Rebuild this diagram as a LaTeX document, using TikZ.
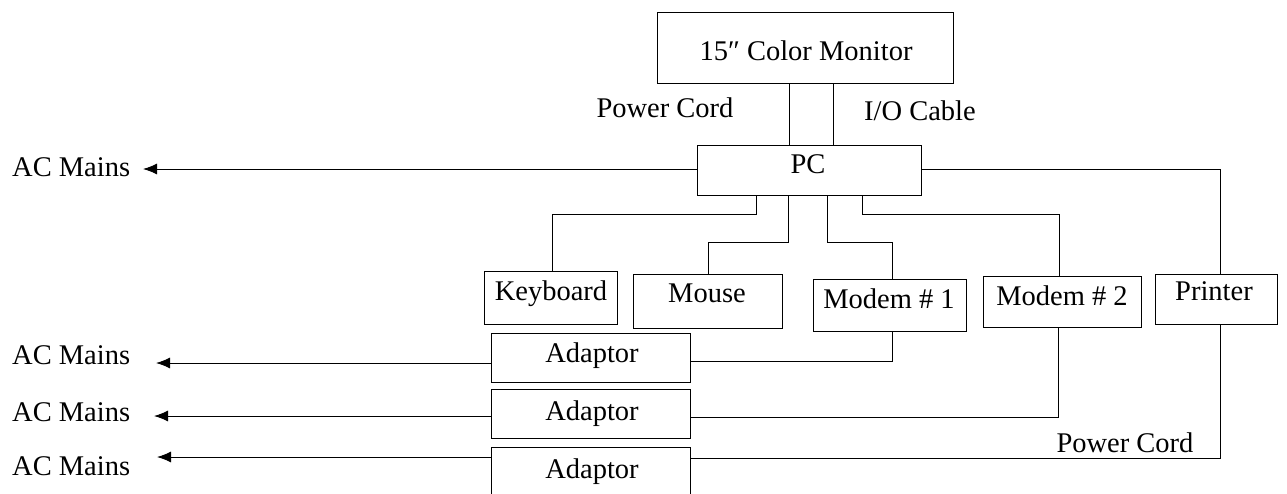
\documentclass[tikz,border=0pt]{standalone}
\usepackage{fontspec}
\setmainfont{Liberation Serif}
\usetikzlibrary{fit,arrows.meta}
\begin{document}
\begin{tikzpicture}[x=1pt,y=-1pt,
  box/.style={draw, line width=1pt, inner sep=0pt},
  lbl/.style={font=\fontsize{28.5}{32}\selectfont, inner sep=0pt, anchor=base},
  wire/.style={line width=1pt},
  arr/.style={wire, -{Latex[length=14pt,width=11pt]}}]
\useasboundingbox (0,0) rectangle (1287,493);
\clip (0,0) rectangle (1287,493);
% boxes
\node[box, fit={(657,12) (953,83)}] (mon) {};
\node[box, fit={(697,145) (921,195)}] (pc) {};
\node[box, fit={(484,271) (617,324)}] (kbd) {};
\node[box, fit={(633,274) (782,328)}] (mouse) {};
\node[box, fit={(813,279) (966,331)}] (modA) {};
\node[box, fit={(983,276) (1141,327)}] (modB) {};
\node[box, fit={(1155,274) (1277,324)}] (prn) {};
\node[box, fit={(491,333) (690,382)}] (adA) {};
\node[box, fit={(491,389) (690,438)}] (adB) {};
\node[box, fit={(491,447) (690,510)}] (adC) {};
% labels
\node[lbl] (monT) at (806,60) {15″ Color Monitor};
\node[lbl] (pcT) at (808,173) {PC};
\node[lbl] (pwrT) at (665,117) {Power Cord};
\node[lbl] (ioT) at (920,120) {I/O Cable};
\node[lbl] (kbdT) at (551,300) {Keyboard};
\node[lbl] (mouseT) at (707,302) {Mouse};
\node[lbl] (modAT) at (889,308) {Modem \# 1};
\node[lbl] (modBT) at (1062,305) {Modem \# 2};
\node[lbl] (prnT) at (1214,300) {Printer};
\node[lbl] (adAT) at (592,362) {Adaptor};
\node[lbl] (adBT) at (592,420) {Adaptor};
\node[lbl] (adCT) at (592,478) {Adaptor};
\node[lbl] (pwrB) at (1125,452) {Power Cord};
\node[lbl, anchor=base west] (ac0) at (12,176) {AC Mains};
\node[lbl, anchor=base west] (ac1) at (12,364) {AC Mains};
\node[lbl, anchor=base west] (ac2) at (12,421) {AC Mains};
\node[lbl, anchor=base west] (ac3) at (12,475) {AC Mains};
% helper coordinates
\coordinate (x789) at (789,0);
\coordinate (x833) at (833,0);
\coordinate (t0) at (143,169);
\coordinate (t1) at (156,363);
\coordinate (t2) at (154,416);
\coordinate (t3) at (157,457);
\coordinate (xPr) at (1220,0);
\coordinate (kb1) at (756,214);
\coordinate (kb2) at (552,0);
\coordinate (ms1) at (788,242);
\coordinate (ms2) at (708,0);
\coordinate (ma1) at (827,242);
\coordinate (xMA) at (892,0);
\coordinate (mb1) at (862,214);
\coordinate (xMB) at (1059,0);
\coordinate (xMB2) at (1058,0);
\coordinate (j1) at (0,361);
\coordinate (j2) at (0,417);
\coordinate (j3) at (0,458);
% connectors
\draw[wire] (mon.south -| x789) -- (pc.north -| x789);
\draw[wire] (mon.south -| x833) -- (pc.north -| x833);
\draw[arr] (pc.west |- t0) -- (t0);
\draw[wire] (pc.east |- t0) -| (prn.north -| xPr);
\draw[wire] (pc.south -| kb1) -- (kb1) -| (kbd.north -| kb2);
\draw[wire] (pc.south -| ms1) -- (ms1) -| (mouse.north -| ms2);
\draw[wire] (pc.south -| ma1) -- (ma1) -| (modA.north -| xMA);
\draw[wire] (pc.south -| mb1) -- (mb1) -| (modB.north -| xMB);
\draw[arr] (adA.west |- t1) -- (t1);
\draw[arr] (adB.west |- t2) -- (t2);
\draw[arr] (adC.west |- t3) -- (t3);
\draw[wire] (adA.east |- j1) -| (modA.south -| xMA);
\draw[wire] (adB.east |- j2) -| (modB.south -| xMB2);
\draw[wire] (adC.east |- j3) -| (prn.south -| xPr);
\end{tikzpicture}
\end{document}
